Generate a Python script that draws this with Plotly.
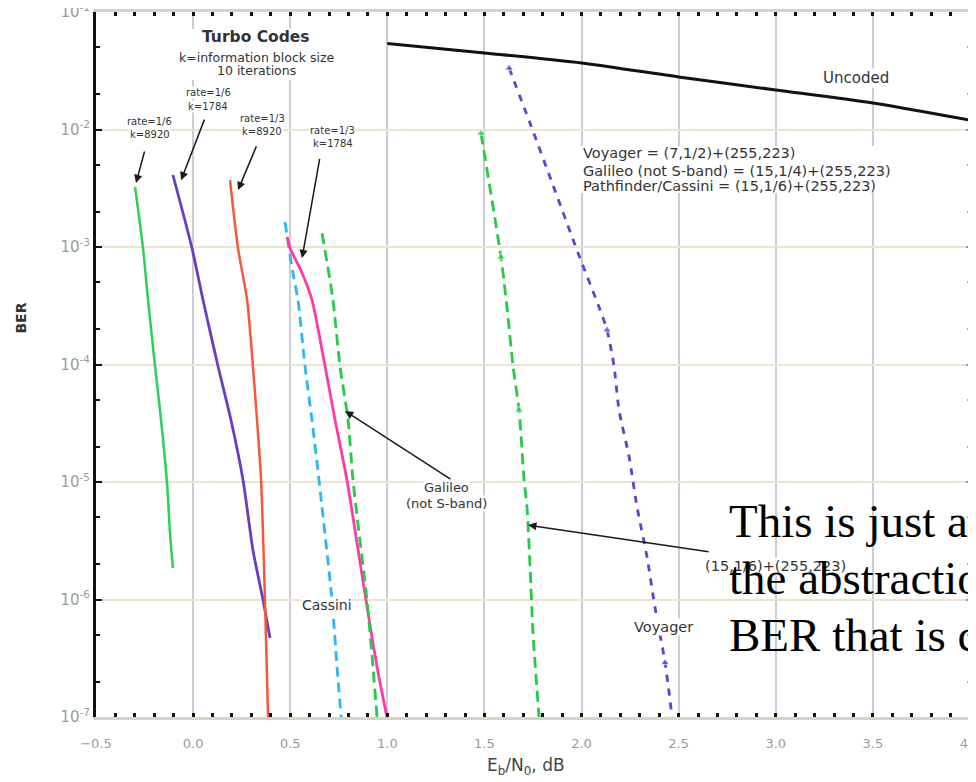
import math
import plotly.graph_objects as go

# ---------------- data (Eb/N0 in dB, BER) ----------------
t16_8920_x = [-0.299, -0.258, -0.232, -0.196, -0.165, -0.134, -0.119, -0.104]
t16_8920_y = [3.24e-3, 9.8e-4, 3.54e-4, 9.7e-5, 3.37e-5, 9.6e-6, 3.68e-6, 1.85e-6]

t16_1784_x = [-0.104, -0.006, 0.051, 0.128, 0.195, 0.257, 0.308, 0.360, 0.396]
t16_1784_y = [4.1e-3, 9.8e-4, 3.54e-4, 9.7e-5, 3.37e-5, 1.04e-5, 2.64e-6, 9.9e-7, 4.7e-7]

t13_8920_x = [0.190, 0.231, 0.278, 0.308, 0.329, 0.350, 0.370, 0.386, 0.390]
t13_8920_y = [3.7e-3, 9.8e-4, 3.54e-4, 9.7e-5, 3.37e-5, 1.04e-5, 9.9e-7, 1.0e-7, 6.6e-8]

t13_1784_x = [0.484, 0.499, 0.561, 0.612, 0.679, 0.731, 0.792, 0.890, 0.947, 0.998]
t13_1784_y = [1.22e-3, 9.8e-4, 6.0e-4, 3.54e-4, 9.7e-5, 3.37e-5, 1.04e-5, 9.9e-7, 2.67e-7, 1.0e-7]

cassini_x = [0.473, 0.514, 0.540, 0.576, 0.612, 0.648, 0.715, 0.741, 0.762]
cassini_y = [1.63e-3, 6.0e-4, 3.54e-4, 9.7e-5, 3.37e-5, 1.04e-5, 9.9e-7, 2.67e-7, 1.0e-7]

galileo_x = [0.664, 0.720, 0.756, 0.798, 0.823, 0.895, 0.926, 0.947]
galileo_y = [1.31e-3, 3.54e-4, 9.7e-5, 3.37e-5, 1.04e-5, 9.9e-7, 2.67e-7, 1.0e-7]

pf_x = [1.482, 1.585, 1.616, 1.647, 1.678, 1.704, 1.719, 1.735, 1.750, 1.781]
pf_y = [9.3e-3, 8.2e-4, 3.08e-4, 9.7e-5, 4.1e-5, 1.04e-5, 6.1e-6, 1.89e-6, 5.2e-7, 1.0e-7]
pf_marker = [1, 1, 0, 0, 1, 0, 0, 0, 0, 0]

voy_x = [1.627, 1.735, 1.843, 1.982, 2.090, 2.131, 2.167, 2.193, 2.245, 2.286, 2.337, 2.378, 2.430, 2.466]
voy_y = [3.33e-2, 1.13e-2, 3.72e-3, 8.9e-4, 3.08e-4, 1.97e-4, 9.7e-5, 4.1e-5, 1.63e-5, 6.1e-6, 2.3e-6, 8.6e-7, 2.9e-7, 1.0e-7]
voy_marker = [1, 0, 0, 0, 0, 1, 0, 0, 0, 0, 0, 0, 1, 0]

unc_x = [1.0, 1.5, 2.0, 2.5, 3.0, 3.5, 4.0]
unc_y = [0.054, 0.0448, 0.0368, 0.028, 0.0217, 0.0168, 0.012]

y_tickvals = [1e-1, 1e-2, 1e-3, 1e-4, 1e-5, 1e-6, 1e-7]
y_ticktext = ["10<sup>-1</sup>", "10<sup>-2</sup>", "10<sup>-3</sup>", "10<sup>-4</sup>",
              "10<sup>-5</sup>", "10<sup>-6</sup>", "10<sup>-7</sup>"]

# ---------------- figure ----------------
fig = go.Figure()

def line(x, y, color, width=2.5, dash="solid", msize=None, name=""):
    mk = dict(size=0)
    mode = "lines"
    if msize is not None:
        mode = "lines+markers"
        mk = dict(size=[8 * m for m in msize], symbol="triangle-up", color=color)
    fig.add_trace(go.Scatter(x=x, y=y, mode=mode, name=name,
                             line=dict(color=color, width=width, dash=dash, shape="spline", smoothing=0.7),
                             marker=mk, hoverinfo="x+y"))

line(unc_x, unc_y, "#111111", 3, name="Uncoded")
line(t16_8920_x, t16_8920_y, "#2bd05a", 2.5, name="rate 1/6 k=8920")
line(t16_1784_x, t16_1784_y, "#6a3cc4", 2.8, name="rate 1/6 k=1784")
line(t13_8920_x, t13_8920_y, "#f5593a", 2.5, name="rate 1/3 k=8920")
line(cassini_x, cassini_y, "#2ab8f2", 2.8, "10px,6px", name="Cassini")
line(t13_1784_x, t13_1784_y, "#ff3aa8", 2.8, name="rate 1/3 k=1784")
line(galileo_x, galileo_y, "#22cc44", 2.8, "11px,6px", name="Galileo")
line(pf_x, pf_y, "#22cc44", 2.8, "11px,6px", msize=pf_marker, name="(15,1/6)+(255,223)")
line(voy_x, voy_y, "#6a3cd4", 2.8, "7px,7px", msize=voy_marker, name="Voyager")
# right-hand axis carrier
fig.add_trace(go.Scatter(x=[None], y=[None], yaxis="y2", showlegend=False))

LOG = math.log10
anns = []

def label(lines, x, ys, size, bold=False, bg="white", color="#333333", family="DejaVu Sans",
          xanchor="center"):
    # draw from bottom line to top line so upper boxes sit on top
    for txt, yy in reversed(list(zip(lines, ys))):
        a = dict(x=x, y=LOG(yy), xref="x", yref="y", text=("<b>%s</b>" % txt) if bold else txt,
                 showarrow=False, xanchor=xanchor, yanchor="middle",
                 font=dict(family=family, size=size, color=color), borderpad=0)
        if bg:
            a["bgcolor"] = bg
        anns.append(a)

label(["Turbo Codes"], 0.324, [0.0612], 15.5, bold=True, bg=None)
label(["k=information block size", "10 iterations"], 0.328, [0.041, 0.0315], 12.5, bg=None)
label(["rate=1/6", "k=8920"], -0.222, [0.0118, 0.0090], 10)
label(["rate=1/6", "k=1784"], 0.079, [0.0208, 0.0158], 10)
label(["rate=1/3", "k=8920"], 0.357, [0.0125, 0.0096], 10)
label(["rate=1/3", "k=1784"], 0.718, [0.0098, 0.0076], 10)
label(["Galileo", "(not S-band)"], 1.307, [8.9e-6, 6.5e-6], 13)
label(["(15,1/6)+(255,223)"], 3.0, [1.91e-6], 14.5)
label(["Uncoded"], 3.413, [0.0272], 15)
label(["Cassini"], 0.69, [8.97e-7], 14)
label(["Voyager"], 2.422, [5.78e-7], 14.5)
label(["Voyager = (7,1/2)+(255,223)",
       "Galileo (not S-band) = (15,1/4)+(255,223)",
       "Pathfinder/Cassini = (15,1/6)+(255,223)"],
      2.003, [6.3e-3, 4.44e-3, 3.3e-3], 14.5, xanchor="left", bg=None)

# arrows: (tail dB, tail BER) -> (head dB, head BER)
arrows = [
    ((-0.248, 6.7e-3), (-0.294, 3.5e-3)),
    ((0.061, 1.25e-2), (-0.062, 3.7e-3)),
    ((0.329, 7.4e-3), (0.231, 3.05e-3)),
    ((0.653, 5.8e-3), (0.561, 8.05e-4)),
    ((1.333, 1.04e-5), (0.782, 4.02e-5)),
    ((2.662, 2.54e-6), (1.725, 4.3e-6)),
]
for (tx, ty), (hx, hy) in arrows:
    anns.append(dict(x=hx, y=LOG(hy), ax=tx, ay=LOG(ty), xref="x", yref="y", axref="x", ayref="y",
                     text="", showarrow=True, arrowhead=2, arrowsize=1.1, arrowwidth=1.5,
                     arrowcolor="#1a1a1a", standoff=0))

# overlay note (cut off by the page edge)
note = ["This is just an", "the abstraction", "BER that is c"]
note_y = [10 ** -5.332, 10 ** -5.818, 10 ** -6.303]
for txt, yy in zip(note, note_y):
    anns.append(dict(x=2.75, y=LOG(yy), xref="x", yref="y", text=txt, showarrow=False,
                     xanchor="left", yanchor="middle",
                     font=dict(family="Liberation Serif", size=47, color="#000000")))

# axis titles
anns.append(dict(x=1.714, y=-0.07, xref="x", yref="paper", text="E<sub>b</sub>/N<sub>0</sub>, dB",
                 showarrow=False, xanchor="center", yanchor="middle",
                 font=dict(family="DejaVu Sans", size=17, color="#444444")))
anns.append(dict(x=-0.086, y=LOG(2.5e-4), xref="paper", yref="y", text="<b>BER</b>", textangle=-90,
                 showarrow=False, xanchor="center", yanchor="middle",
                 font=dict(family="DejaVu Sans", size=14, color="#333333")))

# white backing boxes behind the two text blocks
boxes = [(0.0824, 0.286, 0.9035, 0.9759), (0.5515, 0.9565, 0.7433, 0.8099)]
shapes = [dict(type="rect", xref="paper", yref="paper", x0=a, x1=b, y0=c, y1=d,
               fillcolor="white", line=dict(width=0), layer="above") for a, b, c, d in boxes]

fig.update_layout(
    width=968, height=774,
    margin=dict(l=88, r=6, t=4, b=65, autoexpand=False),
    paper_bgcolor="white", plot_bgcolor="white",
    showlegend=False,
    annotations=anns,
    shapes=shapes,
    xaxis=dict(range=[-0.5, 4.0], tick0=-0.5, dtick=0.5, tickformat=".1f",
               ticks="inside", ticklen=4, tickwidth=3, tickcolor="#111111",
               minor=dict(dtick=0.1, ticks="inside", ticklen=3, tickwidth=2.5, tickcolor="#111111",
                          showgrid=False),
               showline=True, linecolor="#d6d3c6", linewidth=3, mirror="allticks",
               showgrid=True, gridcolor="#cdccd3", gridwidth=2, zeroline=False,
               tickfont=dict(family="DejaVu Sans", size=13, color="#9a9a9a"),
               ticklabelstandoff=12, ticklabeloverflow="allow", automargin=False),
    yaxis=dict(type="log", range=[-7, -1], tickvals=y_tickvals, ticktext=y_ticktext,
               ticks="inside", ticklen=6, tickwidth=2, tickcolor="#111111",
               minor=dict(ticks="inside", ticklen=4, tickwidth=2, tickcolor="#111111", showgrid=False),
               showline=True, linecolor="#111111", linewidth=3, mirror=False,
               showgrid=True, gridcolor="#ece4cc", gridwidth=2, zeroline=False,
               tickfont=dict(family="DejaVu Sans", size=15, color="#9a9a9a"),
               ticklabeloverflow="allow", automargin=False),
    yaxis2=dict(type="log", range=[-7, -1], overlaying="y", side="right",
                tickvals=y_tickvals, showticklabels=False, automargin=False,
                ticks="inside", ticklen=4, tickwidth=2, tickcolor="#999999",
                minor=dict(ticks="inside", ticklen=3, tickwidth=1.5, tickcolor="#aaaaaa"),
                showline=True, linecolor="#d6d3c6", linewidth=3, showgrid=False, zeroline=False),
)

fig.write_html("out.html")
